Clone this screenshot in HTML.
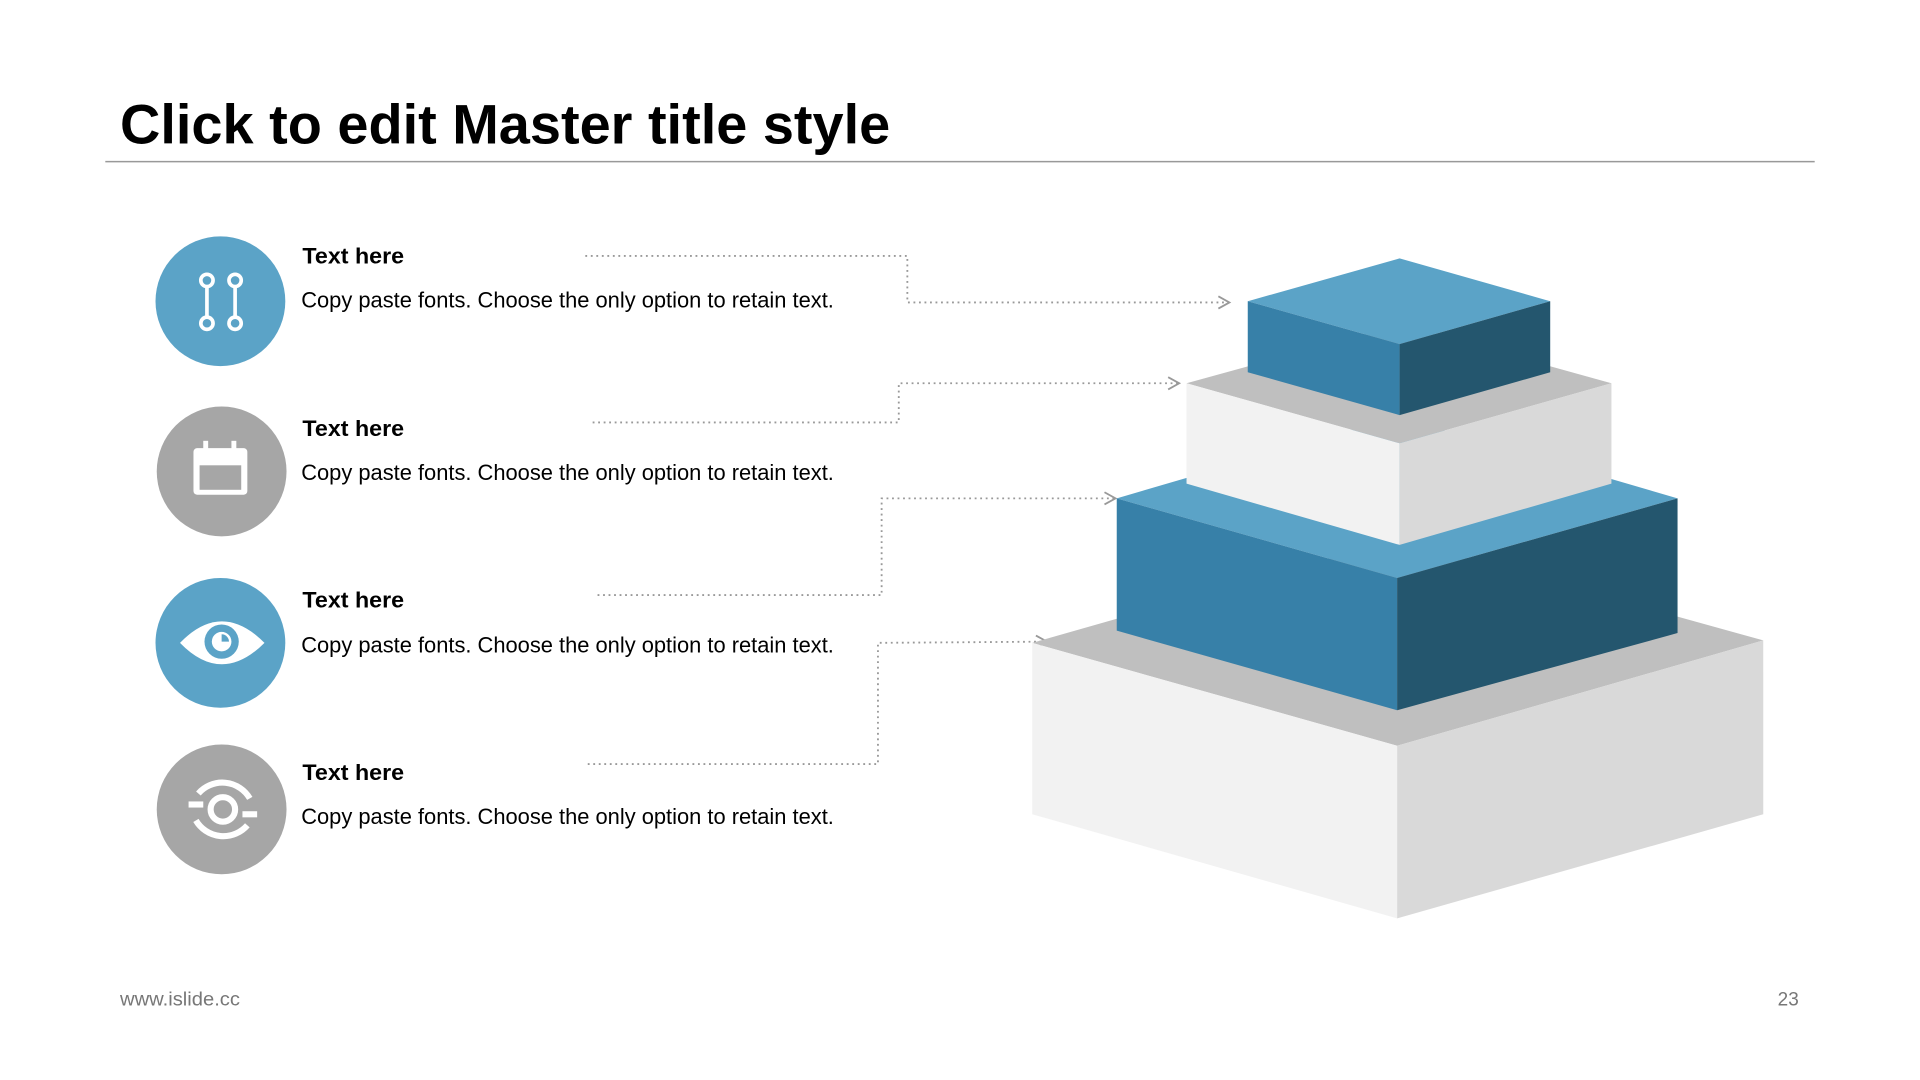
<!DOCTYPE html>
<html><head><meta charset="utf-8"><style>html,body{margin:0;padding:0;background:#fff;width:1920px;height:1080px;overflow:hidden}</style></head>
<body>
<svg width="1920" height="1080" viewBox="0 0 1568 882" xmlns="http://www.w3.org/2000/svg" font-family="Liberation Sans, Arial, sans-serif">
<text x="98" y="117" font-size="45.5" font-weight="bold" fill="#000" textLength="629" lengthAdjust="spacingAndGlyphs">Click to edit Master title style</text>
<line x1="86" y1="132" x2="1482" y2="132" stroke="#999" stroke-width="1.2"/>
<text x="98" y="821" font-size="16" fill="#777" textLength="98" lengthAdjust="spacingAndGlyphs">www.islide.cc</text>
<text x="1469" y="821" font-size="15.5" fill="#777" text-anchor="end">23</text>

<circle cx="180" cy="246" r="53" fill="#5ba3c7"/>
<circle cx="181" cy="385" r="53" fill="#a6a6a6"/>
<circle cx="180" cy="525" r="53" fill="#5ba3c7"/>
<circle cx="181" cy="661" r="53" fill="#a6a6a6"/>
<g stroke="#fff" stroke-width="3" fill="none">
<circle cx="169" cy="229" r="5"/><circle cx="169" cy="264" r="5"/><line x1="169" y1="234" x2="169" y2="259"/>
<circle cx="192" cy="229" r="5"/><circle cx="192" cy="264" r="5"/><line x1="192" y1="234" x2="192" y2="259"/>
</g>
<rect x="158" y="366" width="44" height="38" rx="3" fill="#fff"/>
<rect x="163" y="380" width="34" height="20" fill="#a6a6a6"/>
<rect x="166" y="360" width="4" height="10" fill="#fff"/><rect x="189" y="360" width="4" height="10" fill="#fff"/>
<path d="M147 525 Q181 490 216 525 Q181 560 147 525Z" fill="#fff"/>
<circle cx="181" cy="524" r="14" fill="#5ba3c7"/>
<circle cx="181" cy="524" r="8" fill="#fff"/>
<path d="M181 524 L181 518 A6 6 0 0 1 187 524Z" fill="#5ba3c7"/>
<g stroke="#fff" stroke-width="5" fill="none">
<circle cx="182" cy="661" r="10"/>
<path d="M162 648 A26 26 0 0 1 204 652"/><path d="M202 674 A26 26 0 0 1 160 670"/>
<line x1="154" y1="657" x2="166" y2="657"/><line x1="198" y1="665" x2="210" y2="665"/>
</g>

<g font-size="18.4" fill="#000">
<text x="247" y="215" font-weight="bold" textLength="83" lengthAdjust="spacingAndGlyphs">Text here</text>
<text x="246" y="251" font-size="17.8" textLength="435" lengthAdjust="spacingAndGlyphs">Copy paste fonts. Choose the only option to retain text.</text>
<text x="247" y="356" font-weight="bold" textLength="83" lengthAdjust="spacingAndGlyphs">Text here</text>
<text x="246" y="392" font-size="17.8" textLength="435" lengthAdjust="spacingAndGlyphs">Copy paste fonts. Choose the only option to retain text.</text>
<text x="247" y="496" font-weight="bold" textLength="83" lengthAdjust="spacingAndGlyphs">Text here</text>
<text x="246" y="533" font-size="17.8" textLength="435" lengthAdjust="spacingAndGlyphs">Copy paste fonts. Choose the only option to retain text.</text>
<text x="247" y="637" font-weight="bold" textLength="83" lengthAdjust="spacingAndGlyphs">Text here</text>
<text x="246" y="673" font-size="17.8" textLength="435" lengthAdjust="spacingAndGlyphs">Copy paste fonts. Choose the only option to retain text.</text>
</g>

<g stroke="#999" stroke-width="1.5" fill="none" stroke-dasharray="1.5 3">
<polyline points="478,209 741,209 741,247 1003,247"/>
<polyline points="484,345 734,345 734,313 962,313"/>
<polyline points="488,486 720,486 720,407 910,407"/>
<polyline points="480,624 717,624 717,525 855,524"/>
</g>
<g stroke="#999" stroke-width="1.5" fill="none">
<polyline points="995,242 1004,247 995,252"/>
<polyline points="954,308 963,313 954,318"/>
<polyline points="902,402 911,407 902,412"/>
<polyline points="846,519 855,524 846,529"/>
</g>

<polygon points="843,525 1141,440 1440,523 1141,609" fill="#bfbfbf"/>
<polygon points="843,525 1141,609 1141,750 843,665" fill="#f2f2f2"/>
<polygon points="1141,609 1440,523 1440,665 1141,750" fill="#d9d9d9"/>

<polygon points="912,407 1141,340 1370,407 1141,472" fill="#5ba3c7"/>
<polygon points="912,407 1141,472 1141,580 912,515" fill="#3780a8"/>
<polygon points="1141,472 1370,407 1370,517 1141,580" fill="#24566e"/>

<polygon points="969,313 1143,265 1316,313 1143,362" fill="#bfbfbf"/>
<polygon points="969,313 1143,362 1143,445 969,395" fill="#f2f2f2"/>
<polygon points="1143,362 1316,313 1316,395 1143,445" fill="#d9d9d9"/>

<polygon points="1019,246 1143,211 1266,246 1143,281" fill="#5ba3c7"/>
<polygon points="1019,246 1143,281 1143,339 1019,304" fill="#3780a8"/>
<polygon points="1143,281 1266,246 1266,304 1143,339" fill="#24566e"/>
</svg>
</body></html>
